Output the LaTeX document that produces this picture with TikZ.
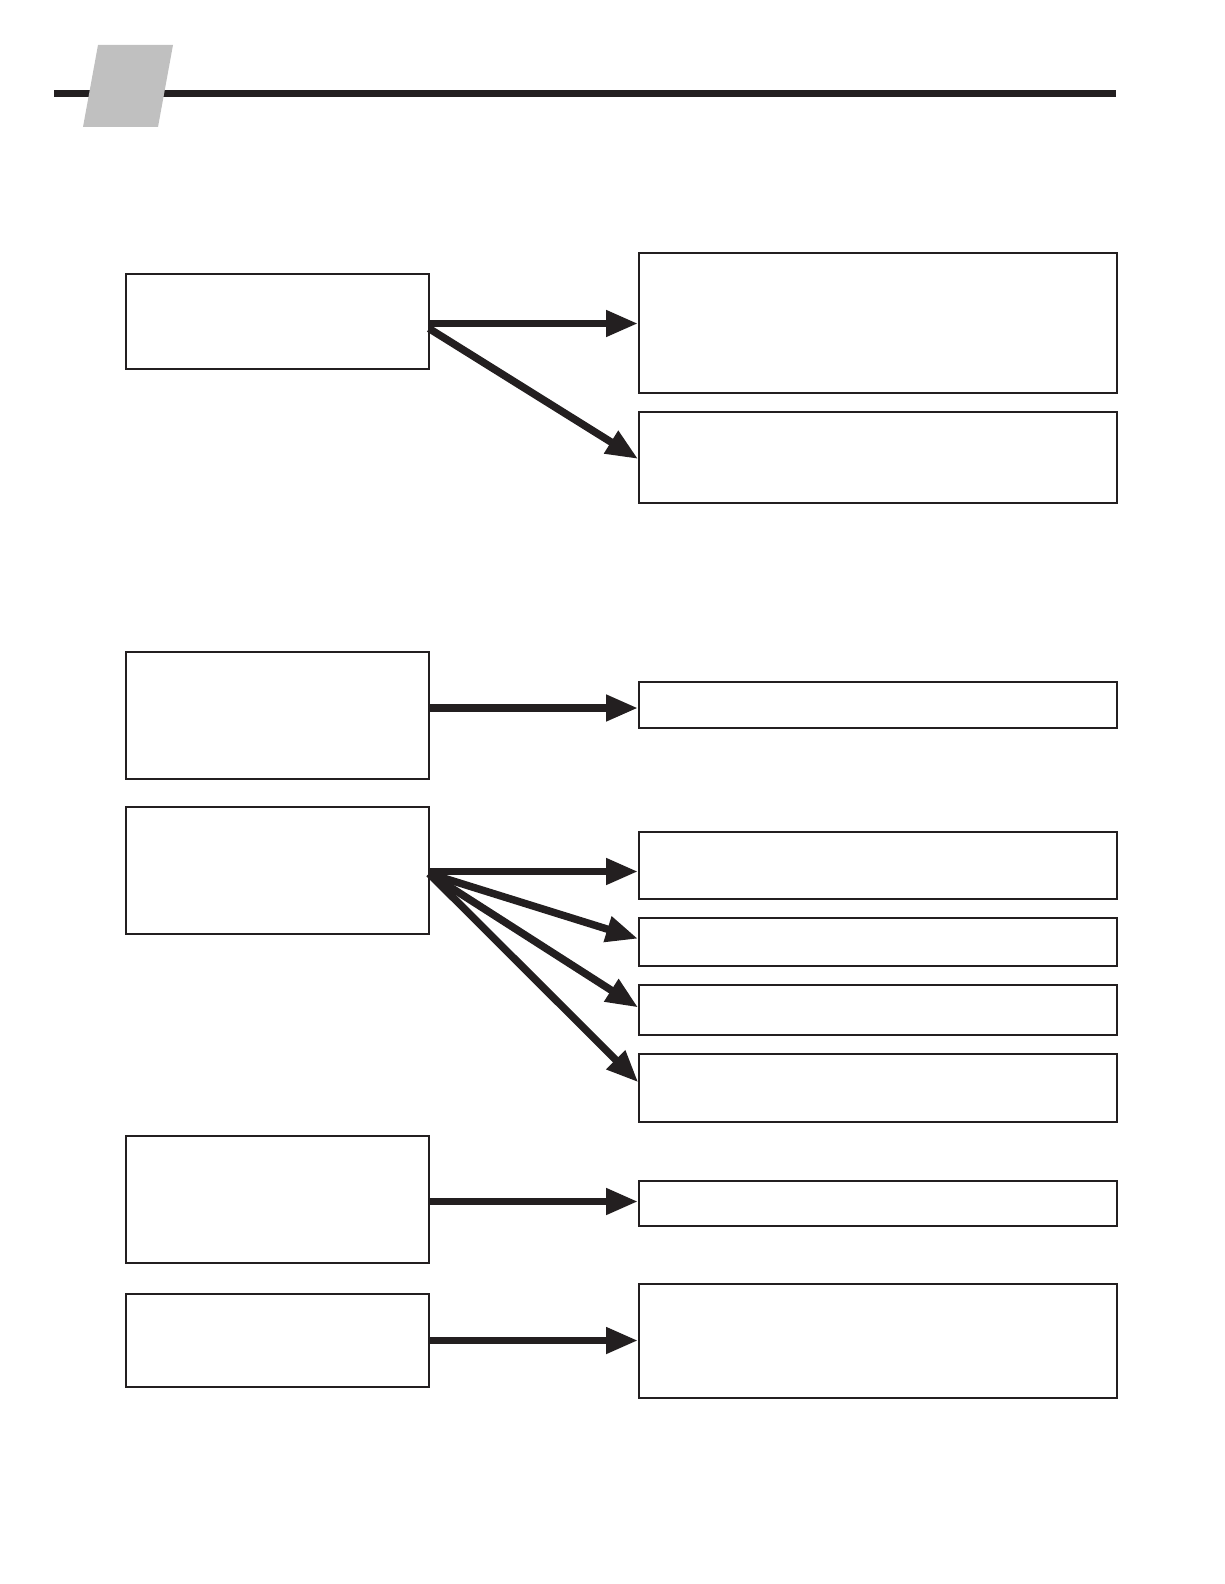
\documentclass[tikz,border=0pt]{standalone}
\usetikzlibrary{arrows.meta,calc}
\definecolor{ink}{HTML}{231F20}
\definecolor{tabgray}{HTML}{C0C0C0}
\tikzset{
  box/.style={draw=ink, line width=1.8pt, fill=white, inner sep=0pt, outer sep=0pt, anchor=north west},
  bigarrow/.style={draw=ink, line width=7.5pt, -{Triangle[length=32pt,width=25pt]}, shorten >=1pt},
}
\begin{document}
\begin{tikzpicture}[x=1pt,y=-1pt]
\useasboundingbox (0,0) rectangle (1224,1584);
% header bar and tab
\fill[ink] (54,90) rectangle (1116,97.5);
\fill[tabgray] (98,45) -- (173,45) -- (158,127) -- (83,127) -- cycle;
% left boxes
\node[box, minimum width=303pt, minimum height=95pt]  (L1) at (126,274) {};
\node[box, minimum width=303pt, minimum height=127pt] (L2) at (126,652) {};
\node[box, minimum width=303pt, minimum height=127pt] (L3) at (126,807) {};
\node[box, minimum width=303pt, minimum height=127pt] (L4) at (126,1136) {};
\node[box, minimum width=303pt, minimum height=93pt]  (L5) at (126,1294) {};
% right boxes
\node[box, minimum width=478pt, minimum height=140pt] (R1) at (639,253) {};
\node[box, minimum width=478pt, minimum height=91pt]  (R2) at (639,412) {};
\node[box, minimum width=478pt, minimum height=46pt]  (R3) at (639,682) {};
\node[box, minimum width=478pt, minimum height=67pt]  (R4) at (639,832) {};
\node[box, minimum width=478pt, minimum height=48pt]  (R5) at (639,918) {};
\node[box, minimum width=478pt, minimum height=50pt]  (R6) at (639,985) {};
\node[box, minimum width=478pt, minimum height=68pt]  (R7) at (639,1054) {};
\node[box, minimum width=478pt, minimum height=45pt]  (R8) at (639,1181) {};
\node[box, minimum width=478pt, minimum height=114pt] (R9) at (639,1284) {};
% connectors
\draw[bigarrow] ($(L1.east)+(0,2)$) -- ($(L1.east -| R1.west)+(0,2)$);
\draw[bigarrow] ($(L1.east)+(0,7)$) -- ($(R2.west)+(0,2)$);
\draw[bigarrow] ($(R3.west -| L2.east)+(0,3)$) -- ($(R3.west)+(0,3)$);
\draw[bigarrow] ($(L3.east)+(0,1)$) -- ($(L3.east -| R4.west)+(0,1)$);
\draw[bigarrow] ($(L3.east)+(0,3)$) -- ($(R5.west)+(0,-3)$);
\draw[bigarrow] ($(L3.east)+(0,3)$) -- ($(R6.west)+(0,-2)$);
\draw[bigarrow] ($(L3.east)+(0,3)$) -- ($(R7.west)+(0,-5)$);
\draw[bigarrow] ($(L4.east)+(0,2)$) -- ($(L4.east -| R8.west)+(0,2)$);
\draw[bigarrow] (L5.east) -- (L5.east -| R9.west);
\end{tikzpicture}
\end{document}
